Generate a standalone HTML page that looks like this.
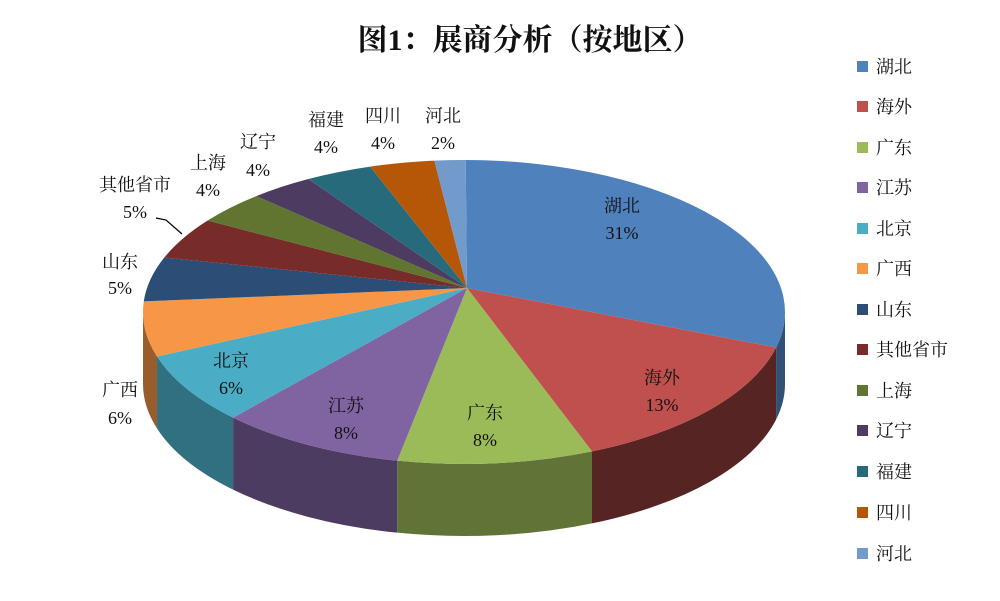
<!DOCTYPE html>
<html><head><meta charset="utf-8">
<style>
html,body{margin:0;padding:0;background:#fff;}
svg text{font-family:"Liberation Serif","Noto Serif CJK SC",serif;fill:#111;}
</style></head>
<body>
<svg id="s" width="1000" height="596" viewBox="0 0 1000 596" xmlns="http://www.w3.org/2000/svg">
<rect width="1000" height="596" fill="#fff"/>
<g id="sides"></g>
<g id="tops"></g>
<text x="530" y="50" font-size="30" font-weight="bold" text-anchor="middle">图1：展商分析（按地区）</text>
<g font-size="18" text-anchor="middle">
<text x="622" y="212">湖北</text><text x="622" y="239">31%</text>
<text x="662" y="384">海外</text><text x="662" y="411">13%</text>
<text x="485" y="419">广东</text><text x="485" y="446">8%</text>
<text x="346" y="412">江苏</text><text x="346" y="439">8%</text>
<text x="231" y="367">北京</text><text x="231" y="394">6%</text>
<text x="120" y="396">广西</text><text x="120" y="424">6%</text>
<text x="120" y="268">山东</text><text x="120" y="294">5%</text>
<text x="135" y="191">其他省市</text><text x="135" y="218">5%</text>
<text x="208" y="169">上海</text><text x="208" y="196">4%</text>
<text x="258" y="148">辽宁</text><text x="258" y="176">4%</text>
<text x="326" y="126">福建</text><text x="326" y="153">4%</text>
<text x="383" y="122">四川</text><text x="383" y="149">4%</text>
<text x="443" y="122">河北</text><text x="443" y="149">2%</text>
</g>
<polyline points="156,218 166,220 182,234" fill="none" stroke="#000" stroke-width="1.2"/>
<g id="legend" font-size="18">
<rect x="857" y="61" width="11" height="11" fill="#4F81BD"/><text x="876" y="73">湖北</text>
<rect x="857" y="101" width="11" height="11" fill="#C0504D"/><text x="876" y="113">海外</text>
<rect x="857" y="142" width="11" height="11" fill="#9BBB59"/><text x="876" y="154">广东</text>
<rect x="857" y="182" width="11" height="11" fill="#8064A2"/><text x="876" y="194">江苏</text>
<rect x="857" y="223" width="11" height="11" fill="#4BACC6"/><text x="876" y="235">北京</text>
<rect x="857" y="263" width="11" height="11" fill="#F79646"/><text x="876" y="275">广西</text>
<rect x="857" y="304" width="11" height="11" fill="#2C4D75"/><text x="876" y="316">山东</text>
<rect x="857" y="344" width="11" height="11" fill="#772C2A"/><text x="876" y="356">其他省市</text>
<rect x="857" y="385" width="11" height="11" fill="#5F7530"/><text x="876" y="397">上海</text>
<rect x="857" y="425" width="11" height="11" fill="#4D3B62"/><text x="876" y="437">辽宁</text>
<rect x="857" y="466" width="11" height="11" fill="#276A7C"/><text x="876" y="478">福建</text>
<rect x="857" y="507" width="11" height="11" fill="#B65708"/><text x="876" y="519">四川</text>
<rect x="857" y="548" width="11" height="11" fill="#729ACA"/><text x="876" y="560">河北</text>
</g>
</svg>
<script>
(function(){
var cx=464,cy=312,rx=321,ry=152,d=72,ax=467,ay=288;
var b=[-89.7,13.5,66.5,102,136,163,184,201,217,229.7,241,253,264.7,270.3];
var cols=["#4F81BD","#C0504D","#9BBB59","#8064A2","#4BACC6","#F79646","#2C4D75","#772C2A","#5F7530","#4D3B62","#276A7C","#B65708","#729ACA"];
var sf=[0.62,0.45,0.62,0.6,0.65,0.62,0.62,0.6,0.6,0.6,0.6,0.6,0.6];
function P(a,dy){var r=a*Math.PI/180;return (cx+rx*Math.cos(r)).toFixed(2)+","+(cy+ry*Math.sin(r)+(dy||0)).toFixed(2);}
function dark(c,f){var n=parseInt(c.slice(1),16);var r=(n>>16)&255,g=(n>>8)&255,bb=n&255;return "rgb("+Math.round(r*f)+","+Math.round(g*f)+","+Math.round(bb*f)+")";}
var sides="",tops="";
for(var i=0;i<13;i++){
 var a=b[i],a2=b[i+1];
 [[a,a2],[a-360,a2-360]].forEach(function(r){
  var s1=Math.max(r[0],0),s2=Math.min(r[1],180);
  if(s2>s1){
   sides+='<path d="M'+P(s1)+' A'+rx+','+ry+' 0 0 1 '+P(s2)+' L'+P(s2,d)+' A'+rx+','+ry+' 0 0 0 '+P(s1,d)+' Z" fill="'+dark(cols[i],sf[i])+'"/>';
  }
 });
 var lg=(a2-a)>180?1:0;
 tops+='<path d="M'+ax+','+ay+' L'+P(a)+' A'+rx+','+ry+' 0 '+lg+' 1 '+P(a2)+' Z" fill="'+cols[i]+'"/>';
}
document.getElementById("sides").innerHTML=sides;
document.getElementById("tops").innerHTML=tops;
})();
</script>
</body></html>
